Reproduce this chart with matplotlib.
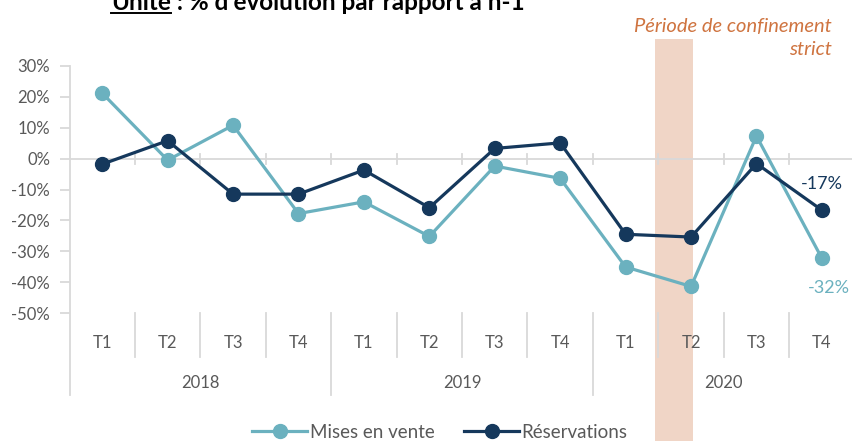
import matplotlib

matplotlib.use("Agg")
import matplotlib.pyplot as plt
from matplotlib.lines import Line2D

plt.rcParams["font.family"] = ["Lato", "DejaVu Sans"]

# données : % d'évolution par rapport à n-1
trimestres = ["T1", "T2", "T3", "T4"] * 3
annees = ["2018", "2019", "2020"]
mises_en_vente = [21.2, -0.5, 10.8, -17.8, -14.0, -25.2, -2.4, -6.4, -35.1, -41.4, 7.3, -32.3]
reservations = [-1.8, 5.8, -11.5, -11.5, -3.7, -15.9, 3.3, 5.1, -24.5, -25.4, -1.6, -16.7]
yticks = [30, 20, 10, 0, -10, -20, -30, -40, -50]

TEAL = "#6BB1BF"
NAVY = "#15385C"
BAND = "#F0D5C6"
ORANGE = "#CF7440"
GREY_TXT = "#595959"
GREY_LINE = "#D9D9D9"


def main():
    fig = plt.figure(figsize=(8.52, 4.41), dpi=100)
    ax = fig.add_axes([69.5 / 852, 1 - 313 / 441, 1 - 69.5 / 852, 247 / 441])
    x = list(range(len(trimestres)))
    ax.set_xlim(-0.5, 11.46)
    ax.set_ylim(-50, 30)

    for s in ax.spines.values():
        s.set_visible(False)

    # bande "confinement strict"
    ax.axvspan(8.45, 9.03, ymin=-0.52, ymax=(313 - 39) / 247, color=BAND,
               clip_on=False, zorder=0, lw=0)

    # axe horizontal à 0 avec graduations
    ax.axhline(0, color=GREY_LINE, lw=1.3, zorder=1)
    for k in range(12):
        ax.plot([k + 0.5, k + 0.5], [-1.6, 1.6], color=GREY_LINE, lw=1.3, zorder=1)

    # axe vertical
    ax.plot([0, 0], [1, -0.332], transform=ax.transAxes, color=GREY_LINE,
            lw=1.3, clip_on=False)
    ax.set_yticks(yticks)
    ax.set_yticklabels([f"{v}%" for v in yticks], color=GREY_TXT, fontsize=12)
    ax.tick_params(axis="y", length=7, color=GREY_LINE, width=1.3, pad=7)
    ax.set_xticks([])

    # étiquettes de catégories à deux niveaux
    tr = ax.get_xaxis_transform()
    for i, t in enumerate(trimestres):
        ax.text(i, -0.12, t, transform=tr, ha="center", va="center",
                color=GREY_TXT, fontsize=12)
    for j, a in enumerate(annees):
        ax.text(4 * j + 1.5, -0.285, a, transform=tr, ha="center", va="center",
                color=GREY_TXT, fontsize=12)
    for k in range(11):
        xb = k + 0.5
        bas = -0.332 if (k + 1) % 4 == 0 else -0.18
        ax.plot([xb, xb], [0, bas], transform=tr, color=GREY_LINE, lw=1.3,
                clip_on=False)

    ax.plot(x, mises_en_vente, color=TEAL, lw=2.3, marker="o", ms=10,
            label="Mises en vente", zorder=3)
    ax.plot(x, reservations, color=NAVY, lw=2.3, marker="o", ms=10,
            label="Réservations", zorder=4)

    ax.text(11, reservations[-1] + 6.0, f"{round(reservations[-1])}%", color=NAVY,
            fontsize=13, ha="center", va="bottom")
    ax.text(11.1, mises_en_vente[-1] - 7.0, f"{round(mises_en_vente[-1])}%",
            color=TEAL, fontsize=13, ha="center", va="top")

    fig.text(832 / 852, 1 - 55 / 441, "Période de confinement\nstrict",
             color=ORANGE, fontsize=14.5, style="italic", ha="right",
             va="baseline", linespacing=1.45)

    # titre tronqué en haut, "Unité" souligné
    y_titre = 1 - 10 / 441
    t1 = fig.text(111 / 852, y_titre, "Unité", fontsize=17.5, fontweight="bold",
                  va="baseline")
    r = fig.canvas.get_renderer()
    bb = t1.get_window_extent(r)
    fig.text(bb.x1 / 852, y_titre, " : % d'évolution par rapport à n-1",
             fontsize=17.5, fontweight="bold", va="baseline")
    fig.add_artist(Line2D([bb.x0 / 852, bb.x1 / 852],
                          [y_titre - 3 / 441, y_titre - 3 / 441],
                          color="black", lw=1.4))

    handles = [
        Line2D([], [], color=TEAL, lw=2.3, marker="o", ms=10),
        Line2D([], [], color=NAVY, lw=2.3, marker="o", ms=10),
    ]
    fig.legend(handles, ["Mises en vente", "Réservations"], loc="center",
               bbox_to_anchor=(440 / 852, 1 - 432 / 441), ncol=2, frameon=False,
               fontsize=13.5, labelcolor=GREY_TXT, handlelength=2.9,
               columnspacing=1.6, handletextpad=0.15)

    fig.savefig("out.png", dpi=100)


if __name__ == "__main__":
    main()
